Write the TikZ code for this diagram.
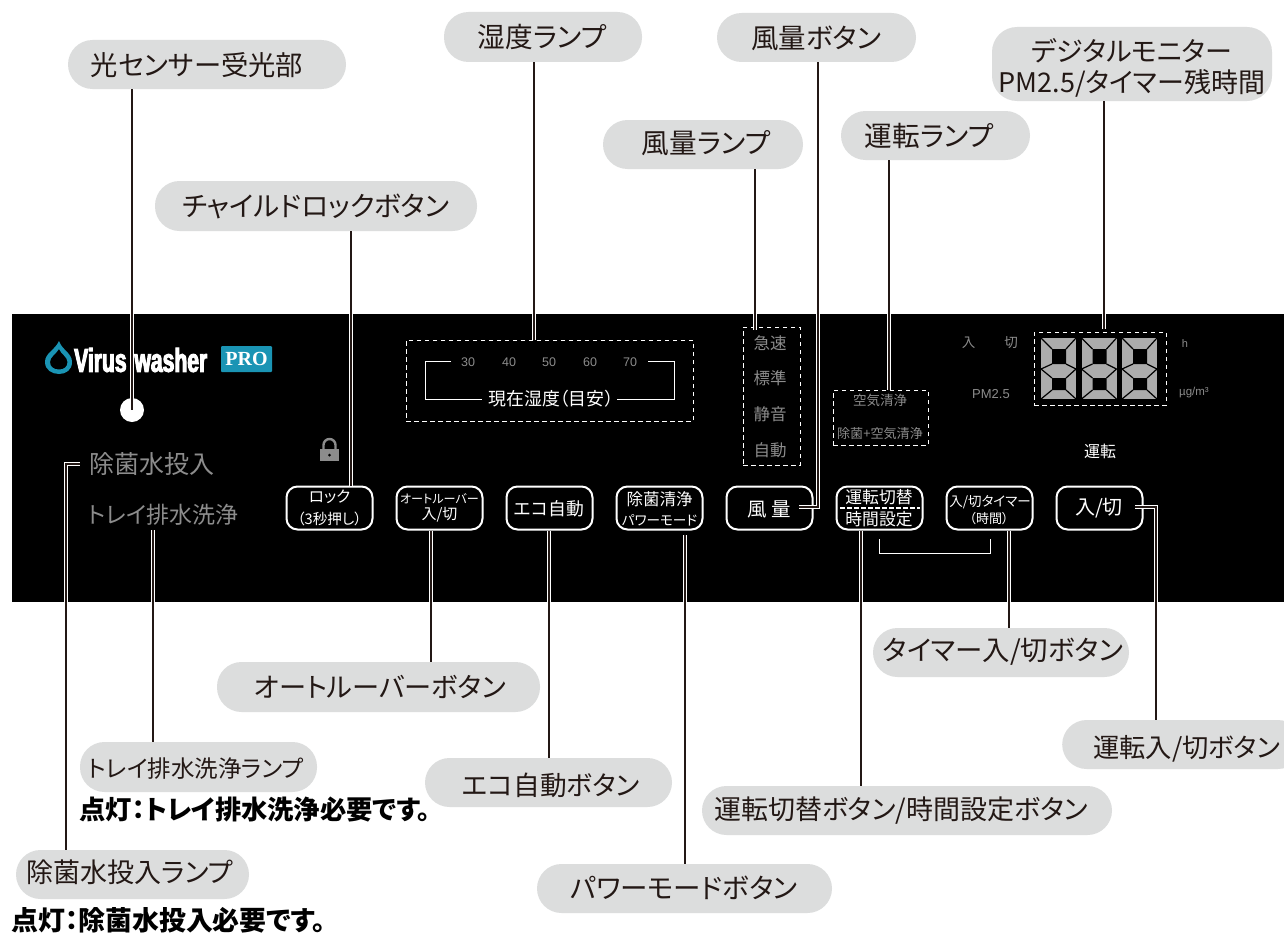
\documentclass[tikz,border=0pt]{standalone}
\usepackage{fontspec}
\setmainfont[RawFeature=+palt]{Noto Sans CJK JP}
\newfontfamily\lat{Liberation Sans}
\newfontfamily\ser{Liberation Serif}
\newfontfamily\logofont[BoldFeatures={FakeBold=3,FakeStretch=.64}]{Liberation Sans}
\definecolor{pill}{HTML}{DCDDDD}
\definecolor{lamp}{HTML}{8C8C8C}
\definecolor{teal}{HTML}{1A94B4}
\definecolor{ink}{HTML}{231815}
\newcommand{\fs}[1]{\fontsize{#1}{#1}\selectfont}
\tikzset{
 x=1pt,y=-1pt,
 pillbox/.style={draw=none,fill=pill,rounded corners=24.5pt,inner sep=0pt},
 pilltext/.style={inner sep=0pt,text=ink,align=center},
 conn/.style={draw=white,line width=1.2pt,double=ink,double distance=1.3pt},
 btn/.style={draw=white,line width=2pt,fill=black,rounded corners=11pt,minimum width=86pt,minimum height=43pt,inner sep=0pt,text=white,align=center},
 dbox/.style={draw=white,line width=.9pt,dash pattern=on 4.5pt off 3.5pt,inner sep=0pt},
 lbl/.style={inner sep=0pt,text=lamp,align=center},
 wlbl/.style={inner sep=0pt,text=white,align=center},
}
% name,x0,y0,x1,y1,text cx,text cy,font size,text
\newcommand{\pillat}[9]{%
 \node[pillbox,minimum width=#4pt-#2pt,minimum height=#5pt-#3pt] (#1) at ({(#2+#4)/2},{(#3+#5)/2}) {};
 \node[pilltext] (#1t) at (#6,#7) {\fs{#8}#9};}
\begin{document}
\begin{tikzpicture}
\useasboundingbox (0,0) rectangle (1284,934);
\fill[white] (0,0) rectangle (1284,934);
% panel
\fill[black] (12,314) rectangle (1284,602);
% logo
\fill[teal,even odd rule] (59,341) .. controls (55,350) and (45,353) .. (45,362) .. controls (45,370) and (52,374) .. (59,374) .. controls (66,374) and (72,370) .. (72,362) .. controls (72,353) and (62,350) .. (59,341) -- cycle
 (59,349) .. controls (56,354) and (50,357) .. (50,362) .. controls (50,367) and (54,369.5) .. (59,369.5) .. controls (64,369.5) and (67.5,367) .. (67.5,362) .. controls (67.5,357) and (61,354) .. (59,349) -- cycle;
\node[wlbl,anchor=west] (logo) at (74,360) {\logofont\bfseries\fs{33}Virus\hspace{2pt} washer};
\fill[teal,rounded corners=1pt] (221,346) rectangle (272,372);
\node[wlbl] (pro) at (246.5,359) {\ser\bfseries\fs{20}PRO};
% sensor
\node[circle,fill=white,minimum size=24pt,inner sep=0pt] (sensor) at (132,410) {};
% lamps left
\node[lbl,anchor=west] (jokin) at (89,464) {\fs{25}除菌水投入};
\node[lbl,anchor=west] (tray) at (88,515) {\fs{23}トレイ排水洗浄};
% lock
\fill[lamp] (320,449) rectangle (339,461);
\draw[lamp,line width=2.4pt] (323.5,449) -- (323.5,445) arc[start angle=180,end angle=360,radius=6] -- (335.5,449);
\fill[black] (329.5,455) circle (1.5);
% humidity
\node[dbox,minimum width=287pt,minimum height=81pt] (humbox) at (549.5,380.5) {};
\foreach \n/\xx in {30/468,40/509,50/549,60/590,70/630}
 \node[lbl] (h\n) at (\xx,362) {\lat\fs{12.5}\n};
\node[wlbl] (humtxt) at (551,399) {\fs{17.9}現在湿度（目安）};
\draw[white,line width=1pt] (451,361) -- (425.5,361) -- (425.5,399) -- (482,399);
\draw[white,line width=1pt] (648,361) -- (674,361) -- (674,399) -- (617,399);
% fan
\node[dbox,minimum width=57pt,minimum height=138pt] (fanbox) at (771.5,396) {};
\node[lbl] (f1) at (770,343) {\fs{16.5}急速};
\node[lbl] (f2) at (770,378) {\fs{16.5}標準};
\node[lbl] (f3) at (770,414) {\fs{16.5}静音};
\node[lbl] (f4) at (770,450) {\fs{16.5}自動};
% mode
\node[dbox,minimum width=95pt,minimum height=55pt] (modebox) at (880.5,417.5) {};
\node[lbl] (m1) at (880,400) {\fs{13.5}空気清浄};
\node[lbl] (m2) at (880,434) {\fs{13.1}除菌+空気清浄};
% digital
\node[dbox,minimum width=132pt,minimum height=73pt] (digbox) at (1100,368.5) {};
\foreach \dx in {1041,1081.5,1122}{
 \begin{scope}[shift={(\dx,338)}]
 \fill[gray!65] (0,0) rectangle (35,61);
 \fill[black] (11,11) rectangle (25,26) (11,40) rectangle (25,52);
 \draw[black,line width=1.2pt] (0,0)--(11,11) (35,0)--(25,11) (0,61)--(11,52) (35,61)--(25,52)
   (0,31)--(11,26) (35,31)--(25,26) (0,31)--(11,40) (35,31)--(25,40);
 \end{scope}
}
\node[lbl] (iri) at (968.5,343) {\fs{13.5}入};
\node[lbl] (kiri) at (1011,343) {\fs{13.5}切};
\node[lbl] (pm) at (991,394) {\lat\fs{13}PM2.5};
\node[lbl] (hh) at (1185,344) {\lat\fs{11}h};
\node[lbl] (ug) at (1194,393) {\lat\fs{11.5}µg/m³};
\node[wlbl] (unten) at (1100,451) {\fs{16}運転};
% buttons
\node[btn] (b1) at (329.5,508) {};
\node[wlbl] at (329.5,497) {\fs{15.6}ロック};
\node[wlbl] at (329.5,519) {\fs{14.6}（3秒押し）};
\node[btn] (b2) at (439.5,508) {};
\node[wlbl] at (439.5,498.5) {\fs{12.1}オートルーバー};
\node[wlbl] at (439.5,515) {\fs{15}入/切};
\node[btn] (b3) at (549.5,508) {};
\node[wlbl] at (549,508.5) {\fs{17.8}エコ自動};
\node[btn] (b4) at (659.5,508) {};
\node[wlbl] at (659.5,499) {\fs{16.5}除菌清浄};
\node[wlbl] at (659.5,520) {\fs{13.6}パワーモード};
\node[btn] (b5) at (769.5,508) {};
\node[wlbl] at (769,509) {\fs{19.5}風 量};
\node[btn] (b6) at (879.5,508) {};
\node[wlbl] at (879,497) {\fs{16.8}運転切替};
\draw[white,line width=2pt,dash pattern=on 5pt off 2pt] (840,508) -- (920,508);
\node[wlbl] at (879,519) {\fs{16.8}時間設定};
\node[btn] (b7) at (989.5,508) {};
\node[wlbl] at (990,502) {\fs{13.5}入/切タイマー};
\node[wlbl] at (989,519) {\fs{13}（時間）};
\node[btn] (b8) at (1099.5,508) {};
\node[wlbl] at (1099,508) {\fs{20}入/切};
\draw[white,line width=1pt] (879,539) -- (879,553.5) -- (990,553.5) -- (990,539);
% callouts
\pillat{c1}{68}{40}{346}{89}{197}{65}{27.3}{光センサー受光部}
\pillat{c2}{155}{181}{477}{231}{316}{206}{27.5}{チャイルドロックボタン}
\pillat{c3}{444}{12}{642}{62}{542}{37}{27.7}{湿度ランプ}
\pillat{c4}{603}{120}{803}{169}{706}{143.5}{27.7}{風量ランプ}
\pillat{c5}{717}{13}{916}{62}{816}{38}{27.5}{風量ボタン}
\pillat{c6}{841}{111}{1030}{160}{929}{136}{27.7}{運転ランプ}
\node[pillbox,rounded corners=25pt,minimum width=280pt,minimum height=74pt] (c7) at (1132,64) {};
\node[pilltext] (c7a) at (1132,50.5) {\fs{27}デジタルモニター};
\node[pilltext] (c7b) at (1132,83) {\fs{27}PM2.5/タイマー残時間};
\pillat{c8}{217}{662}{540}{712}{380}{687}{27.2}{オートルーバーボタン}
\pillat{c9}{80}{742}{317}{792}{196}{769}{23.5}{トレイ排水洗浄ランプ}
\pillat{c10}{16}{850}{249}{899}{130}{872}{27}{除菌水投入ランプ}
\pillat{c11}{425}{758}{672}{807}{551}{785}{26.7}{エコ自動ボタン}
\pillat{c12}{537}{864}{832}{913}{684}{888}{27.5}{パワーモードボタン}
\pillat{c13}{702}{786}{1112}{835}{901}{811}{27}{運転切替ボタン/時間設定ボタン}
\pillat{c14}{873}{628}{1129}{677}{1003}{652}{27.4}{タイマー入/切ボタン}
\begin{scope}
\clip (0,0) rectangle (1284,934);
\node[pillbox,minimum width=240pt,minimum height=49pt,anchor=west] (c15) at (1062,744.5) {};
\node[pilltext,anchor=west] (c15t) at (1093,749) {\fs{26.3}運転入/切ボタン};
\end{scope}
\node[inner sep=0pt,anchor=west,text=black] (t1) at (79,810) {\bfseries\fs{26.3}点灯：トレイ排水洗浄必要です。};
\node[inner sep=0pt,anchor=west,text=black] (t2) at (11,920) {\bfseries\fs{26.9}点灯：除菌水投入必要です。};
% connector end points
\coordinate (e2) at (351,0 |- b1.north);
\coordinate (e3) at (534,0 |- humbox.north);
\coordinate (e4) at (755,330);
\coordinate (e5) at (799,507);
\coordinate (e6) at (889,0 |- modebox.north);
\coordinate (e7) at (1104,329);
\coordinate (e8) at (431,0 |- b2.south);
\coordinate (e9) at (153,530);
\coordinate (e10) at (80,464);
\coordinate (e11) at (549,0 |- b3.south);
\coordinate (e12) at (685,535);
\coordinate (e13) at (861,0 |- b6.south);
\coordinate (e14) at (1009,0 |- b7.south);
\coordinate (e15) at (1135,507);
% connectors
\draw[conn] (c1.south -| sensor) -- (sensor.center);
\draw[conn] (c2.south -| e2) -- (e2);
\draw[conn] (c3.south -| e3) -- (e3);
\draw[conn] (c4.south -| e4) -- (e4);
\draw[conn] (c5.south -| 818,0) -- (818,507) -- (e5);
\draw[conn] (c6.south -| e6) -- (e6);
\draw[conn] (c7.south -| e7) -- (e7);
\draw[conn] (c8.north -| e8) -- (e8);
\draw[conn] (c9.north -| e9) -- (e9);
\draw[conn] (c10.north -| 66,0) -- (66,464) -- (e10);
\draw[conn] (c11.north -| e11) -- (e11);
\draw[conn] (c12.north -| e12) -- (e12);
\draw[conn] (c13.north -| e13) -- (e13);
\draw[conn] (c14.north -| e14) -- (e14);
\draw[conn] (c15.north -| 1156,0) -- (1156,507) -- (e15);
\end{tikzpicture}
\end{document}
